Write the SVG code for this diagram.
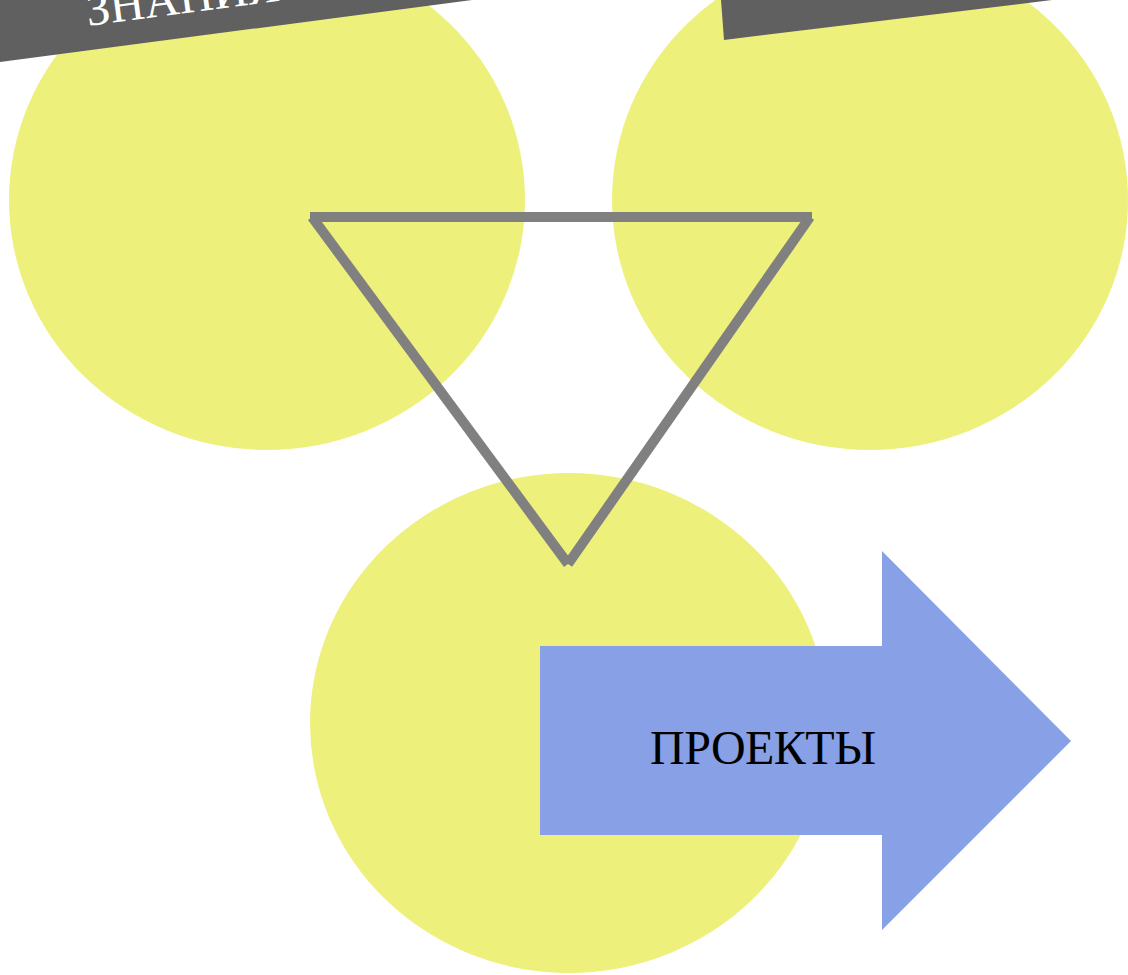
<svg xmlns="http://www.w3.org/2000/svg" width="1128" height="975" viewBox="0 0 1128 975">
<style>
.blob{fill:#EEF07C}
.banner{fill:#606060}
.edge{stroke:#808080;stroke-width:10;fill:none;stroke-linecap:butt}
.lbl{font-family:"Liberation Serif","Times New Roman",serif;font-size:48px}
</style>
<rect width="1128" height="975" fill="#ffffff"/>
<g id="node-left">
<ellipse class="blob" cx="267" cy="200" rx="258" ry="250"/>
<polygon class="banner" points="0,0 472,0 0,62"/>
<text class="lbl" fill="#ffffff" transform="translate(88,26) rotate(-7.5)">ЗНАНИЯ</text>
</g>
<g id="node-right">
<ellipse class="blob" cx="870" cy="200" rx="258" ry="250"/>
<polygon class="banner" points="721,0 1052,0 724,40"/>
</g>
<g id="node-bottom">
<ellipse class="blob" cx="569" cy="723" rx="259" ry="250"/>
</g>
<g id="connectors">
<line class="edge" x1="310" y1="217" x2="812" y2="217"/>
<line class="edge" x1="312" y1="217" x2="568" y2="564"/>
<line class="edge" x1="810" y1="217" x2="568" y2="564"/>
</g>
<g id="node-projects">
<polygon fill="#87A0E6" points="540,646 882,646 882,551 1071,741 882,930 882,835 540,835"/>
<text class="lbl" fill="#000000" x="763" y="764" text-anchor="middle" textLength="226">ПРОЕКТЫ</text>
</g>
</svg>
